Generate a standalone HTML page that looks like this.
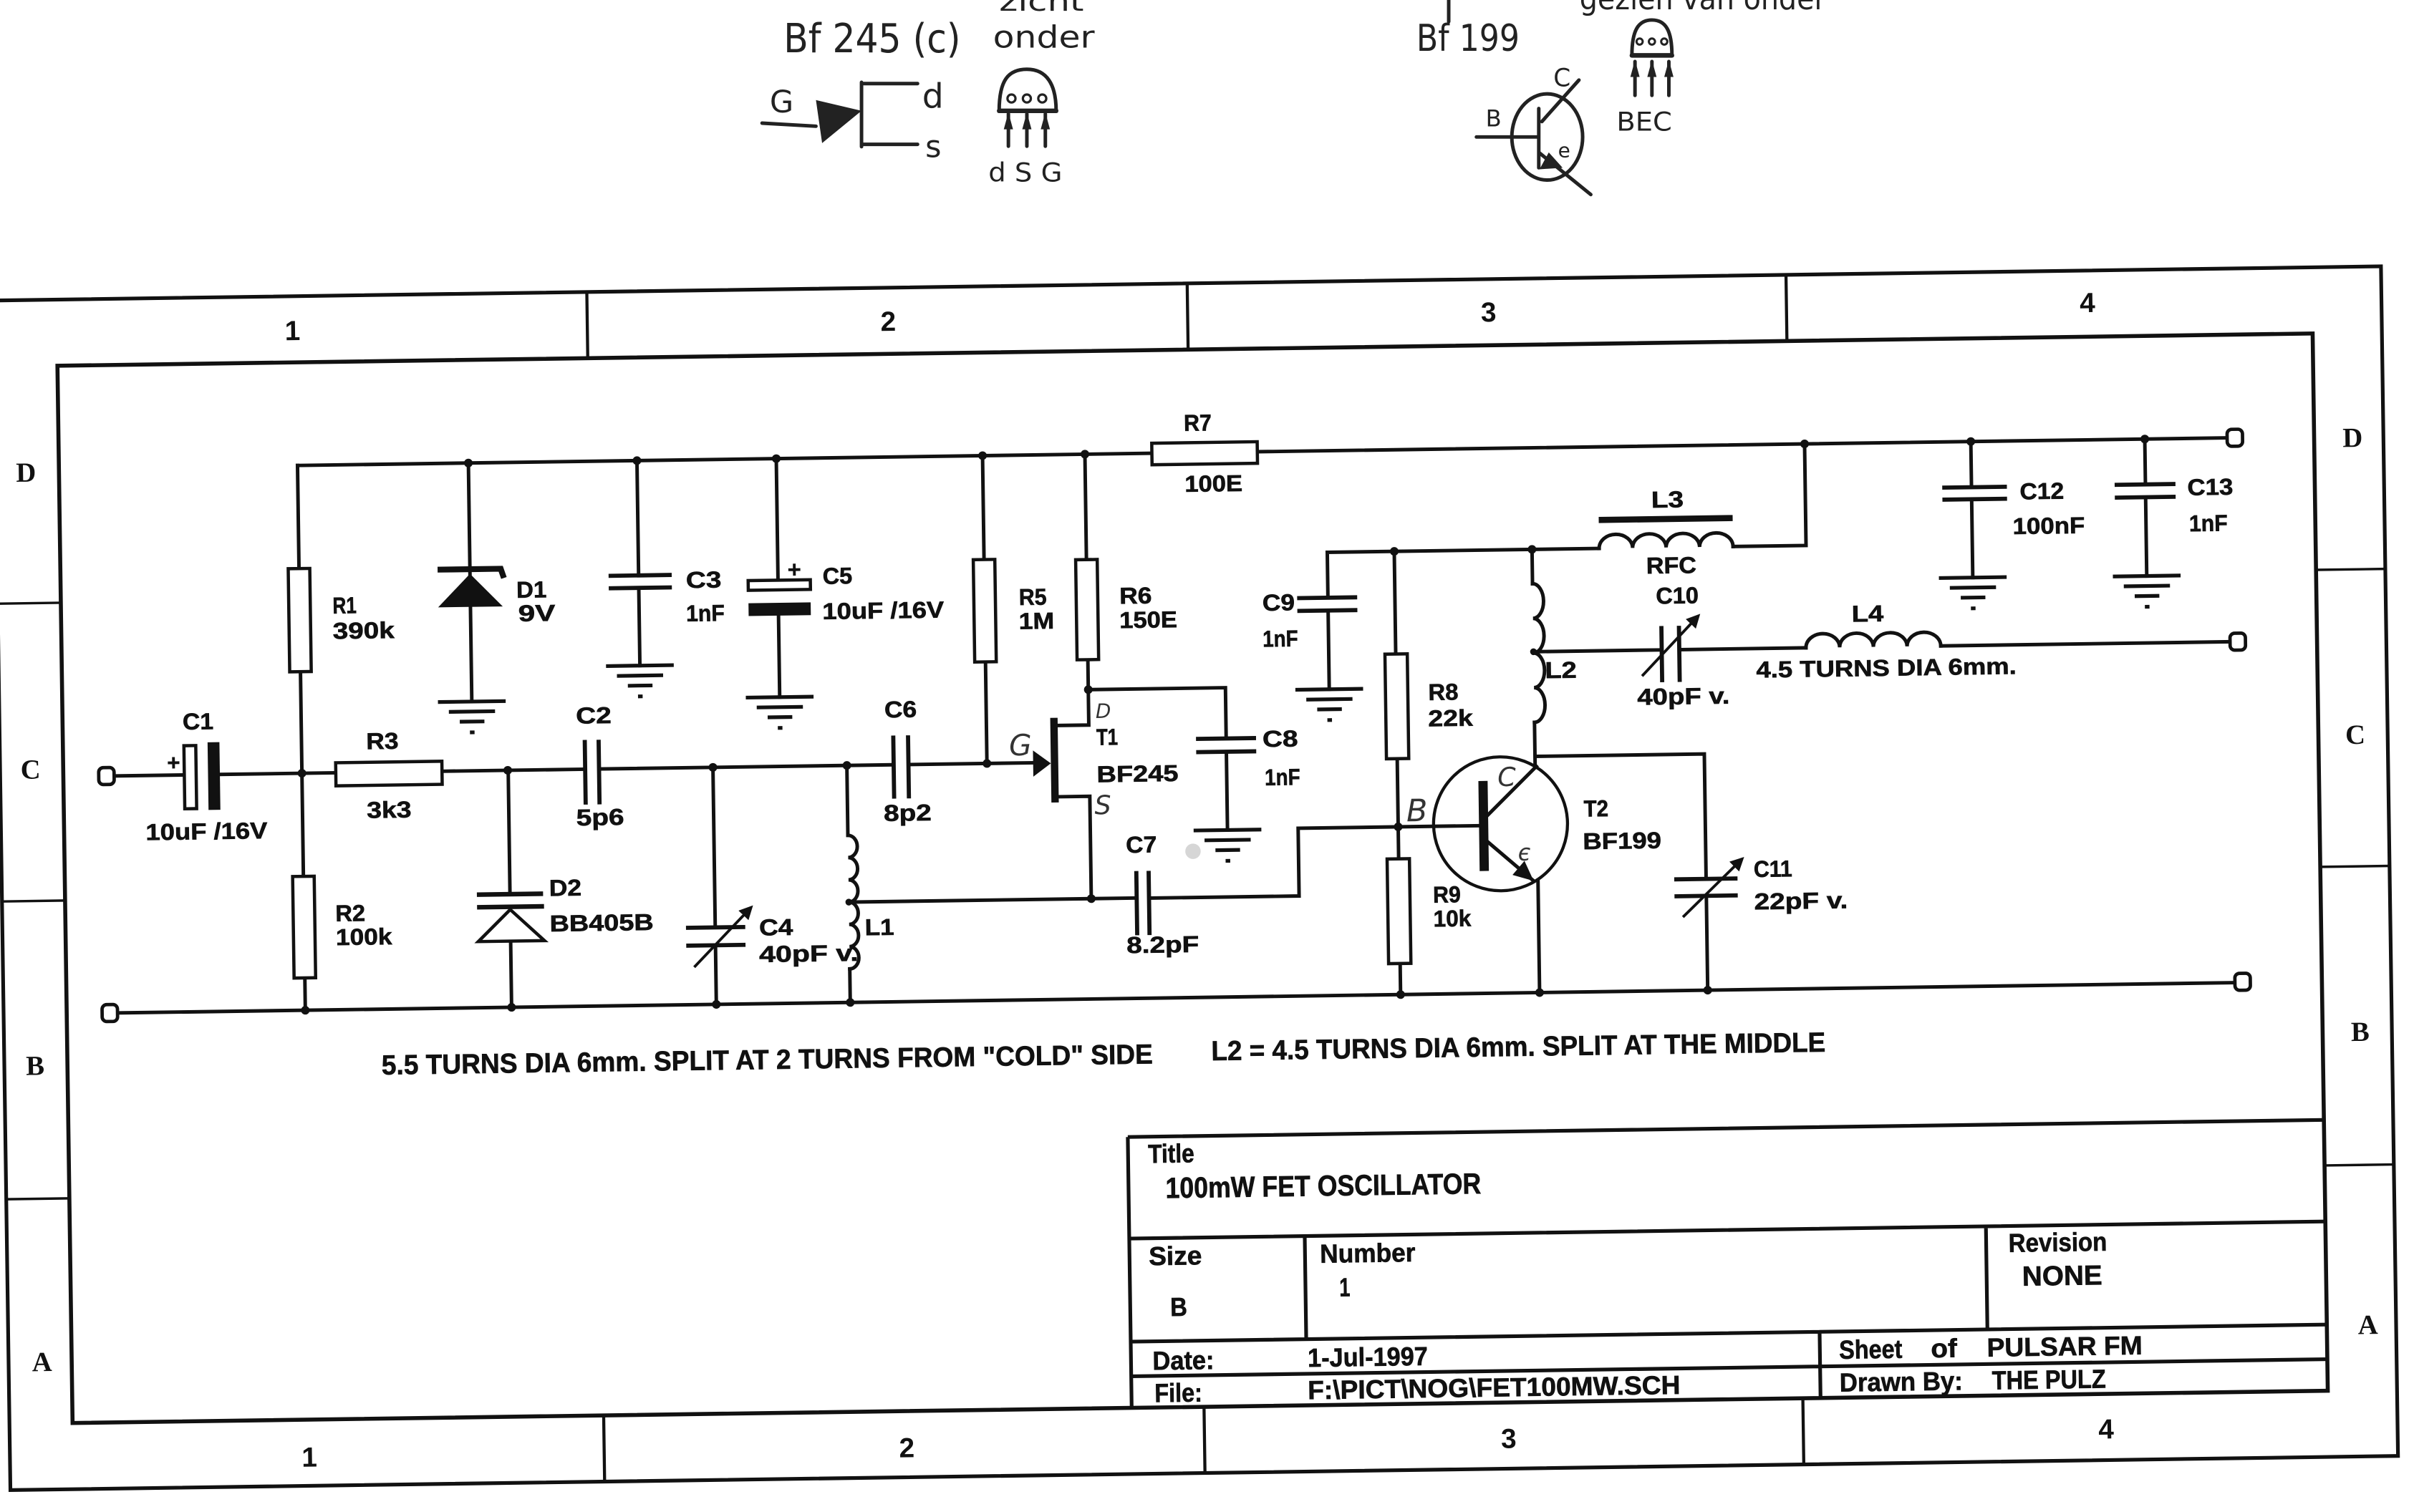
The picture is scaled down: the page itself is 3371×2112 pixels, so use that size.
<!DOCTYPE html>
<html><head><meta charset="utf-8"><style>html,body{margin:0;padding:0;background:#fff}svg{display:block}</style></head>
<body>
<svg xmlns="http://www.w3.org/2000/svg" width="3371" height="2112" viewBox="0 0 1568 982.4" preserveAspectRatio="none">
<defs>
<marker id="ah" viewBox="0 0 10 10" refX="8" refY="5" markerWidth="5" markerHeight="5" orient="auto"><path d="M0,0 L10,5 L0,10 z" fill="#111"/></marker>
<g id="gnd" stroke="#111" stroke-width="2.4" fill="none"><path d="M-22,0H22M-15,6.5H15M-8,13H8M-1.5,20H1.5"/></g>
</defs>
<rect width="1568" height="982.4" fill="#fff"/>

<g transform="rotate(-0.82 784 560)">
<!-- FRAME -->
<g stroke="#111" fill="none">
<rect x="1" y="184" width="1551" height="773" stroke-width="2.4"/>
<rect x="42" y="227" width="1465" height="687" stroke-width="2.6"/>
<path stroke-width="2" d="M386.5,184V227M776.5,184V227M1165.5,184V227M387,914V957M777,914V957M1166,914V957"/>
<path stroke-width="1.6" d="M1,381H42M1,574.5H42M1,768H42M1507,380.6H1552M1507,573.6H1552M1507,767.6H1552"/>
</g>
<g font-family="Liberation Sans, sans-serif" font-weight="bold" font-size="18" fill="#111" text-anchor="middle">
<text x="195" y="212.5">1</text><text x="582" y="212">2</text><text x="972" y="211.6">3</text><text x="1361" y="211">4</text>
<text x="195.5" y="944.5">1</text><text x="583.6" y="944">2</text><text x="974.6" y="943.6">3</text><text x="1362.7" y="943">4</text>
</g>
<g font-family="Liberation Serif, serif" font-weight="bold" font-size="18" fill="#111" text-anchor="middle">
<text x="20.6" y="302">D</text><text x="20.8" y="495">C</text><text x="21" y="687.5">B</text><text x="22.7" y="880">A</text>
<text x="1532" y="301">D</text><text x="1531" y="494">C</text><text x="1531.4" y="687">B</text><text x="1533.7" y="877.5">A</text>
</g>

<!-- TITLE BLOCK -->
<g stroke="#111" fill="none" stroke-width="2.4">
<path d="M730,738H1507M730,738V914M730,804H1507M844,804V871M1286.5,804V871M730,871H1507M1177.5,871V914M730,893.5H1507"/>
</g>
<g font-family="Liberation Sans, sans-serif" font-weight="bold" fill="#111" stroke="#111" stroke-width="0.3">
<text x="743" y="755" font-size="17" textLength="30" lengthAdjust="spacingAndGlyphs">Title</text>
<text x="754" y="778" font-size="19" textLength="205" lengthAdjust="spacingAndGlyphs">100mW FET OSCILLATOR</text>
<text x="742.5" y="821.5" font-size="17" textLength="34.5" lengthAdjust="spacingAndGlyphs">Size</text>
<text x="756" y="854.7" font-size="17" textLength="11" lengthAdjust="spacingAndGlyphs">B</text>
<text x="853.7" y="821.5" font-size="17" textLength="62" lengthAdjust="spacingAndGlyphs">Number</text>
<text x="866" y="843.5" font-size="17" textLength="7" lengthAdjust="spacingAndGlyphs">1</text>
<text x="1301" y="820.9" font-size="17" textLength="64" lengthAdjust="spacingAndGlyphs">Revision</text>
<text x="1309.6" y="842.9" font-size="18" textLength="52" lengthAdjust="spacingAndGlyphs">NONE</text>
<text x="744" y="889.5" font-size="17" textLength="40" lengthAdjust="spacingAndGlyphs">Date:</text>
<text x="844.8" y="889" font-size="17" textLength="78" lengthAdjust="spacingAndGlyphs">1-Jul-1997</text>
<text x="745" y="910.5" font-size="17" textLength="31" lengthAdjust="spacingAndGlyphs">File:</text>
<text x="844.5" y="910" font-size="17" textLength="242" lengthAdjust="spacingAndGlyphs">F:\PICT\NOG\FET100MW.SCH</text>
<text x="1190" y="888.7" font-size="17" textLength="41" lengthAdjust="spacingAndGlyphs">Sheet</text>
<text x="1249.6" y="888.7" font-size="17" textLength="17" lengthAdjust="spacingAndGlyphs">of</text>
<text x="1286" y="888.6" font-size="17" textLength="101" lengthAdjust="spacingAndGlyphs">PULSAR FM</text>
<text x="1190" y="910" font-size="17" textLength="80" lengthAdjust="spacingAndGlyphs">Drawn By:</text>
<text x="1289" y="910" font-size="17" textLength="74" lengthAdjust="spacingAndGlyphs">THE PULZ</text>
<text x="246" y="690.5" font-size="18" textLength="501" lengthAdjust="spacingAndGlyphs">5.5 TURNS DIA 6mm. SPLIT AT 2 TURNS FROM "COLD" SIDE</text>
<text x="785" y="689" font-size="18" textLength="399" lengthAdjust="spacingAndGlyphs">L2 = 4.5 TURNS  DIA 6mm. SPLIT AT THE MIDDLE</text>
</g>

<!-- WIRES -->
<g stroke="#111" stroke-width="2.3" fill="none" stroke-linecap="square">
<path d="M197,294H1450"/>
<path d="M75,494H120.6M143.7,494H219M288,494H381M390,494H581.4M591,494H672"/>
<path d="M75,648H1450"/>
<path d="M197,294V361M197,428V494M197,494V561M197,627V648"/>
<path d="M308,294V449"/>
<path d="M417.5,294V368.6M417.5,376.7V427.2"/>
<path d="M508,294V373M508,396V449"/>
<path d="M331,494V574.5M331,605V648"/>
<path d="M464,494V598M464,609.6V648"/>
<path d="M551,494V539.4M551,626.2V648M551,582.8H738"/>
<path d="M746,583H843.5V539H961"/>
<path d="M642,294V361.5M642,428V494"/>
<path d="M708.5,294V362.5M708.5,427.7V470H688M688,516.3H708.5V582.8"/>
<path d="M708.5,447H797.6V480M797.6,488.6V539.5"/>
<path d="M865,360H1041.6M865,360V389.5M865,397.8V449"/>
<path d="M908.5,360V426.7M908.5,494.6V559.8M908.5,627.7V648"/>
<path d="M998,360V382.3M998,472.4V501"/>
<path d="M967,532L998.8,501M998.8,494.5H1108V575.7M1108,586.7V648"/>
<path d="M967,550L996,575.4M998.8,575V648"/>
<path d="M998,426.5H1081.3M1092.7,426.5H1175M1262.6,426.5H1450"/>
<path d="M1128.6,360H1176V294"/>
<path d="M1284,294V323.7M1284,331.5V382.4M1397,294V323.5M1397,331.8V383"/>
<!-- coils -->
<path d="M551,539.4a6,7.233 0 0 1 0,14.467a6,7.233 0 0 1 0,14.467a6,7.233 0 0 1 0,14.467a6,7.233 0 0 1 0,14.467a6,7.233 0 0 1 0,14.467a6,7.233 0 0 1 0,14.467"/>
<path d="M998,382.3a7,11.26 0 0 1 0,22.52a7,11.26 0 0 1 0,22.52a7,11.26 0 0 1 0,22.52a7,11.26 0 0 1 0,22.52"/>
<path d="M1041.6,360a10.875,9 0 0 1 21.75,0a10.875,9 0 0 1 21.75,0a10.875,9 0 0 1 21.75,0a10.875,9 0 0 1 21.75,0"/>
<path d="M1175,426.5a10.9,9 0 0 1 21.9,0a10.9,9 0 0 1 21.9,0a10.9,9 0 0 1 21.9,0a10.9,9 0 0 1 21.9,0"/>
</g>
<!-- cap plates -->
<g stroke="#111" stroke-width="2.7" fill="none">
<path d="M398,368.6H439M398,376.7H439"/>
<path d="M381,475V517M390,475V517"/>
<path d="M581.4,475V516M591,475V516"/>
<path d="M445,598H483.5M445,609.6H483.5"/>
<path d="M738,565.3V607M746,565.3V607"/>
<path d="M778,480H817M778,488.6H817"/>
<path d="M845,389.5H884M845,397.8H884"/>
<path d="M1081.3,411V447.5M1092.7,411V447.5"/>
<path d="M1087.3,575.7H1128.4M1087.3,586.7H1128.4"/>
<path d="M1265,323.7H1307M1265,331.5H1307"/>
<path d="M1377,323.5H1416.5M1377,331.8H1416.5"/>
<path d="M309.5,574.5H352.5M309.5,582.7H353" stroke-width="3"/>
<path d="M1041.6,341.5H1128.6" stroke-width="4"/>
<path d="M287,363H328L330,369" stroke-width="3.8"/>
</g>
<!-- variable cap arrows -->
<g stroke="#111" stroke-width="1.8" fill="none">
<path d="M450,623.6L487.5,585.3" marker-end="url(#ah)"/>
<path d="M1068.3,443.3L1105.4,404.7" marker-end="url(#ah)"/>
<path d="M1092.6,600.3L1131.6,563" marker-end="url(#ah)"/>
<path d="M110,486H117.5M113.7,482.3V489.7M514.8,366.3H522.6M518.7,362.4V370.2"/>
</g>
<!-- bodies -->
<g stroke="#111" stroke-width="2.1" fill="#fff">
<rect x="190" y="361" width="14" height="67"/>
<rect x="190" y="561" width="14" height="66"/>
<rect x="219" y="487.5" width="69" height="15"/>
<rect x="635" y="361.5" width="14" height="66.5"/>
<rect x="701.5" y="362.5" width="14" height="65"/>
<rect x="752" y="287.5" width="68.5" height="14"/>
<rect x="901.5" y="426.7" width="14.5" height="68"/>
<rect x="901" y="559.8" width="14.5" height="68"/>
<rect x="120.6" y="475" width="7.7" height="41"/>
<rect x="488.6" y="373" width="40.4" height="6.3"/>
<path d="M331,584.5L310,605H353Z"/>
<circle cx="975" cy="538" r="43.5" fill="none" stroke-width="2"/>
</g>
<g fill="#111">
<rect x="136" y="473" width="7.7" height="44"/>
<rect x="488.6" y="387.7" width="40.4" height="8.3"/>
<path d="M308,366L287,387.5H329Z"/>
<rect x="683.5" y="465" width="4.8" height="55"/>
<path d="M683.5,494.5L672,486V503Z"/>
<rect x="961" y="510" width="6" height="58.5"/>
<path d="M996,575.4L982.3,571.3L990.2,562.3Z"/>
</g>
<!-- grounds -->
<use href="#gnd" x="308" y="449"/>
<use href="#gnd" x="417.5" y="427.2"/>
<use href="#gnd" x="508" y="449"/>
<use href="#gnd" x="797.6" y="539.5"/>
<use href="#gnd" x="865" y="449"/>
<use href="#gnd" x="1284" y="382.4"/>
<use href="#gnd" x="1397" y="383"/>
<!-- junctions -->
<g fill="#111">
<circle cx="197" cy="494" r="2.8"/><circle cx="197" cy="648" r="2.8"/>
<circle cx="308" cy="294" r="2.8"/><circle cx="417.5" cy="294" r="2.8"/><circle cx="508" cy="294" r="2.8"/>
<circle cx="642" cy="294" r="2.8"/><circle cx="708.5" cy="294" r="2.8"/><circle cx="1176" cy="294" r="2.8"/>
<circle cx="1284" cy="294" r="2.8"/><circle cx="1397" cy="294" r="2.8"/>
<circle cx="330.7" cy="494" r="2.8"/><circle cx="464" cy="494" r="2.8"/><circle cx="551" cy="494" r="2.8"/><circle cx="642" cy="494" r="2.8"/>
<circle cx="331" cy="648" r="2.8"/><circle cx="464" cy="648" r="2.8"/><circle cx="551" cy="648" r="2.8"/>
<circle cx="708.5" cy="447" r="2.8"/><circle cx="708.5" cy="582.8" r="2.8"/><circle cx="551" cy="582.8" r="2.2"/>
<circle cx="908.5" cy="360" r="2.8"/><circle cx="998" cy="360" r="2.8"/><circle cx="908.5" cy="539" r="2.8"/>
<circle cx="908.5" cy="648" r="2.8"/><circle cx="998.8" cy="648" r="2.8"/><circle cx="1108" cy="648" r="2.8"/>
<circle cx="998" cy="426.5" r="2.2"/>
</g>
<!-- terminals -->
<g stroke="#111" stroke-width="2.2" fill="#fff">
<rect x="65" y="488.5" width="10" height="11" rx="3"/>
<rect x="65" y="642.5" width="10" height="11" rx="3"/>
<rect x="1450.5" y="288.5" width="10" height="11" rx="3"/>
<rect x="1450.5" y="421" width="10" height="11" rx="3"/>
<rect x="1450.5" y="642" width="10" height="11" rx="3"/>
</g>
<circle cx="775" cy="553" r="5" fill="#bbb" opacity="0.6"/>

<!-- LABELS -->
<g font-family="Liberation Sans, sans-serif" font-weight="bold" font-size="15" fill="#111" stroke="#111" stroke-width="0.3">
<text x="120" y="464.5" textLength="20" lengthAdjust="spacingAndGlyphs">C1</text>
<text x="95" y="536" textLength="79" lengthAdjust="spacingAndGlyphs">10uF /16V</text>
<text x="218.5" y="390.5" textLength="15.5" lengthAdjust="spacingAndGlyphs">R1</text>
<text x="218.4" y="407" textLength="40" lengthAdjust="spacingAndGlyphs">390k</text>
<text x="217.4" y="590.5" textLength="19.4" lengthAdjust="spacingAndGlyphs">R2</text>
<text x="217.5" y="606" textLength="36.5" lengthAdjust="spacingAndGlyphs">100k</text>
<text x="239" y="479" textLength="21" lengthAdjust="spacingAndGlyphs">R3</text>
<text x="238.8" y="523.7" textLength="29" lengthAdjust="spacingAndGlyphs">3k3</text>
<text x="338" y="382" textLength="19.6" lengthAdjust="spacingAndGlyphs">D1</text>
<text x="339" y="397.3" textLength="24" lengthAdjust="spacingAndGlyphs">9V</text>
<text x="448.2" y="377.2" textLength="23" lengthAdjust="spacingAndGlyphs">C3</text>
<text x="448" y="398.9" textLength="25" lengthAdjust="spacingAndGlyphs">1nF</text>
<text x="537" y="375.9" textLength="19.3" lengthAdjust="spacingAndGlyphs">C5</text>
<text x="536.5" y="398.8" textLength="79" lengthAdjust="spacingAndGlyphs">10uF /16V</text>
<text x="375.5" y="464.3" textLength="23" lengthAdjust="spacingAndGlyphs">C2</text>
<text x="374.8" y="530.5" textLength="31" lengthAdjust="spacingAndGlyphs">5p6</text>
<text x="356.5" y="576" textLength="21" lengthAdjust="spacingAndGlyphs">D2</text>
<text x="356.5" y="599.1" textLength="67.5" lengthAdjust="spacingAndGlyphs">BB405B</text>
<text x="492.5" y="603.6" textLength="22" lengthAdjust="spacingAndGlyphs">C4</text>
<text x="492.3" y="621" textLength="64.4" lengthAdjust="spacingAndGlyphs">40pF v.</text>
<text x="561.2" y="604.5" textLength="19" lengthAdjust="spacingAndGlyphs">L1</text>
<text x="575.9" y="463.2" textLength="21" lengthAdjust="spacingAndGlyphs">C6</text>
<text x="574.5" y="530.5" textLength="31" lengthAdjust="spacingAndGlyphs">8p2</text>
<text x="664.3" y="391.4" textLength="18" lengthAdjust="spacingAndGlyphs">R5</text>
<text x="664" y="407" textLength="23" lengthAdjust="spacingAndGlyphs">1M</text>
<text x="729.6" y="391.5" textLength="21" lengthAdjust="spacingAndGlyphs">R6</text>
<text x="729.4" y="407.3" textLength="37.5" lengthAdjust="spacingAndGlyphs">150E</text>
<text x="713.3" y="483.1" textLength="14" lengthAdjust="spacingAndGlyphs">T1</text>
<text x="713.2" y="507.2" textLength="53" lengthAdjust="spacingAndGlyphs">BF245</text>
<text x="821.2" y="485.8" textLength="23" lengthAdjust="spacingAndGlyphs">C8</text>
<text x="822.3" y="510.8" textLength="23" lengthAdjust="spacingAndGlyphs">1nF</text>
<text x="731.5" y="553.3" textLength="20" lengthAdjust="spacingAndGlyphs">C7</text>
<text x="731" y="618.5" textLength="47" lengthAdjust="spacingAndGlyphs">8.2pF</text>
<text x="773" y="279.8" textLength="18" lengthAdjust="spacingAndGlyphs">R7</text>
<text x="773" y="319.4" textLength="37.6" lengthAdjust="spacingAndGlyphs">100E</text>
<text x="822.4" y="397.3" textLength="21" lengthAdjust="spacingAndGlyphs">C9</text>
<text x="822.2" y="420.8" textLength="23" lengthAdjust="spacingAndGlyphs">1nF</text>
<text x="929.3" y="457" textLength="19.5" lengthAdjust="spacingAndGlyphs">R8</text>
<text x="929" y="474" textLength="29" lengthAdjust="spacingAndGlyphs">22k</text>
<text x="930.5" y="588.6" textLength="18" lengthAdjust="spacingAndGlyphs">R9</text>
<text x="930.5" y="604.2" textLength="24.5" lengthAdjust="spacingAndGlyphs">10k</text>
<text x="1029.2" y="534.1" textLength="16" lengthAdjust="spacingAndGlyphs">T2</text>
<text x="1028.3" y="555.3" textLength="51" lengthAdjust="spacingAndGlyphs">BF199</text>
<text x="1005.3" y="443.8" textLength="20.6" lengthAdjust="spacingAndGlyphs">L2</text>
<text x="1072" y="376.8" textLength="32.6" lengthAdjust="spacingAndGlyphs">RFC</text>
<text x="1078" y="396.5" textLength="27.7" lengthAdjust="spacingAndGlyphs">C10</text>
<text x="1065" y="462" textLength="60" lengthAdjust="spacingAndGlyphs">40pF v.</text>
<text x="1075.9" y="334" textLength="21" lengthAdjust="spacingAndGlyphs">L3</text>
<text x="1315.3" y="332" textLength="28.7" lengthAdjust="spacingAndGlyphs">C12</text>
<text x="1310.4" y="354.6" textLength="46.8" lengthAdjust="spacingAndGlyphs">100nF</text>
<text x="1424.2" y="330.9" textLength="29.7" lengthAdjust="spacingAndGlyphs">C13</text>
<text x="1425" y="354.4" textLength="25" lengthAdjust="spacingAndGlyphs">1nF</text>
<text x="1205" y="410" textLength="20.7" lengthAdjust="spacingAndGlyphs">L4</text>
<text x="1142.5" y="445.4" textLength="169" lengthAdjust="spacingAndGlyphs">4.5 TURNS DIA 6mm.</text>
<text x="1139" y="574.9" textLength="25" lengthAdjust="spacingAndGlyphs">C11</text>
<text x="1139" y="596" textLength="60.8" lengthAdjust="spacingAndGlyphs">22pF v.</text>
</g>
<!-- handwritten pin letters on schematic -->
<g font-family="DejaVu Sans, sans-serif" font-style="italic" fill="#333">
<text x="656.5" y="489" font-size="19">G</text>
<text x="713" y="465.5" font-size="13">D</text>
<text x="711.5" y="528" font-size="17">S</text>
<text x="973.5" y="513.5" font-size="17">C</text>
<text x="914" y="535.5" font-size="20">B</text>
<text x="986" y="562" font-size="15">є</text>
</g>
</g>

<!-- HANDWRITTEN NOTES (top) -->
<g stroke="#222" stroke-width="2.3" fill="none" stroke-linecap="round">
<path d="M495,80L530,82"/>
<path d="M559.6,53.5V95.3M561,54.3H596M561,93.8H596"/>
<path d="M649,72C649,52 655,45 667,45C680,45 686,55 686,72Z"/>
<path d="M649,72H686" stroke-width="3"/>
<circle cx="657" cy="64" r="2.6" stroke-width="1.5"/><circle cx="667" cy="64" r="2.6" stroke-width="1.5"/><circle cx="677" cy="64" r="2.6" stroke-width="1.5"/>
<path d="M655,74V95M667,74V95M679,74V95"/>
<path d="M1060,36C1060,20 1064,13 1073,13C1082,13 1086,20 1086,36Z"/>
<path d="M1060,36H1086" stroke-width="3"/>
<circle cx="1065" cy="27" r="2" stroke-width="1.4"/><circle cx="1073" cy="27" r="2" stroke-width="1.4"/><circle cx="1081" cy="27" r="2" stroke-width="1.4"/>
<path d="M1062,40V62M1073,40V62M1084,40V62"/>
<ellipse cx="1005" cy="89" rx="23" ry="28"/>
<path d="M959,89H999.5M999.5,70.5V109M1001.5,79L1025.6,52M999.5,99L1033.3,126.4"/>
<path d="M941,0V14"/>
</g>
<g fill="#222">
<path d="M530,65L534,93L559.6,72Z"/>
<path d="M652,84L655,73L658,84ZM664,84L667,73L670,84ZM676,84L679,73L682,84Z"/>
<path d="M1059,50L1062,39L1065,50ZM1070,50L1073,39L1076,50ZM1081,50L1084,39L1087,50Z"/>
<path d="M1000,110L1006,99L1015,109Z"/>
</g>
<g font-family="DejaVu Sans, sans-serif" fill="#222">
<text x="509" y="34" font-size="26" textLength="115" lengthAdjust="spacingAndGlyphs">Bf 245 (c)</text>
<text x="649" y="7" font-size="18" textLength="55" lengthAdjust="spacingAndGlyphs">zicht</text>
<text x="645" y="31" font-size="20" textLength="66" lengthAdjust="spacingAndGlyphs">onder</text>
<text x="500" y="73" font-size="20">G</text>
<text x="599" y="70" font-size="22">d</text>
<text x="601" y="102" font-size="20">s</text>
<text x="642" y="118" font-size="17" textLength="48" lengthAdjust="spacingAndGlyphs">d S G</text>
<text x="920" y="33" font-size="24" textLength="67" lengthAdjust="spacingAndGlyphs">Bf 199</text>
<text x="1026" y="6" font-size="20" textLength="160" lengthAdjust="spacingAndGlyphs">gezien van onder</text>
<text x="1050" y="85" font-size="17" textLength="36" lengthAdjust="spacingAndGlyphs">BEC</text>
<text x="1009" y="56" font-size="16">C</text>
<text x="965" y="82" font-size="15">B</text>
<text x="1012" y="102" font-size="13">e</text>
</g>
</svg>
</body></html>
